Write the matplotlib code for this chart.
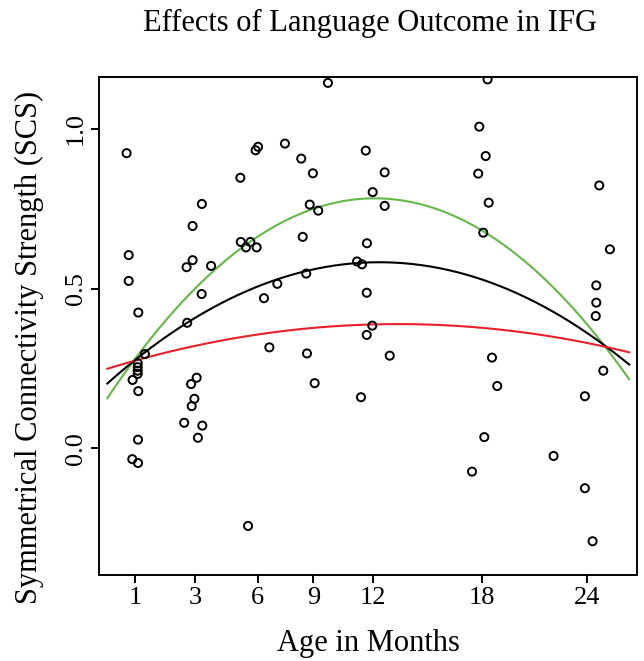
import numpy as np
import matplotlib
matplotlib.use("Agg")
import matplotlib.pyplot as plt

# ---- axis tick labels (months) and their relative spacing on the axis ----
tick_months = [1, 3, 6, 9, 12, 18, 24]
tick_pos = [135.0, 195.0, 257.7, 313.3, 372.7, 481.7, 586.7]

# ---- scatter data (age in months, SCS) ----
age = [0.72, 9.74, 5.90, 6.02, 7.47, 8.35, 8.98, 5.17, 11.65, 3.33,
       2.92, 8.81, 9.25, 0.79, 5.19, 5.65, 5.44, 5.95, 8.43, 11.71,
       2.72, 2.92, 3.77, 0.79, 11.21, 11.46, 7.06, 8.62, 11.70, 3.32,
       6.34, 1.11, 2.74, 18.34, 17.87, 18.23, 12.66, 17.81, 12.00, 24.72,
       12.66, 18.40, 18.09, 25.33, 24.55, 24.55, 24.52, 6.63, 8.66, 9.07,
       11.41, 11.70, 11.98, 12.94, 1.33, 1.09, 1.09, 1.09, 1.09, 0.92,
       1.11, 3.08, 2.87, 2.98, 2.89, 2.64, 3.35, 3.14, 1.10, 0.91,
       1.10, 5.54, 18.59, 18.89, 18.15, 17.47, 22.11, 23.90, 23.90, 24.34,
       24.95]
scs = [0.924, 1.144, 0.933, 0.944, 0.954, 0.907, 0.861, 0.847, 0.932, 0.765,
       0.696, 0.763, 0.744, 0.605, 0.646, 0.646, 0.629, 0.629, 0.662, 0.642,
       0.567, 0.589, 0.571, 0.524, 0.585, 0.576, 0.515, 0.547, 0.487, 0.483,
       0.470, 0.425, 0.393, 1.155, 1.007, 0.915, 0.864, 0.860, 0.802, 0.823,
       0.759, 0.769, 0.675, 0.623, 0.510, 0.456, 0.414, 0.316, 0.297, 0.204,
       0.160, 0.355, 0.384, 0.290, 0.295, 0.266, 0.254, 0.243, 0.233, 0.214,
       0.179, 0.221, 0.201, 0.155, 0.132, 0.080, 0.071, 0.033, 0.027, -0.034,
       -0.046, -0.243, 0.284, 0.195, 0.035, -0.073, -0.024, 0.163, -0.125, -0.291,
       0.243]

# ---- fitted curves, values read at several ages ----
green_age = [0.077, 1.0, 2.06, 5.63, 8.82, 12.03, 18.09, 23.71, 25.14, 26.43]
green_val = [0.158, 0.276, 0.402, 0.652, 0.756, 0.773, 0.675, 0.408, 0.318, 0.214]
black_age = [0.077, 1.0, 2.74, 7.03, 11.19, 13.67, 18.07, 22.86, 25.14, 26.43]
black_val = [0.204, 0.276, 0.393, 0.527, 0.579, 0.580, 0.527, 0.408, 0.318, 0.258]
red_age = [0.077, 1.0, 6.30, 11.86, 14.05, 19.62, 25.14, 26.43]
red_val = [0.247, 0.276, 0.360, 0.388, 0.389, 0.365, 0.318, 0.301]

# piecewise-linear axis scale built from the tick spacing
km = np.array([-10.0] + tick_months + [40.0])
kp = np.array([tick_pos[0] - 11 * 30.0] + tick_pos + [tick_pos[-1] + 16 * 17.5])


def fwd(x):
    return np.interp(x, km, kp)


def inv(p):
    return np.interp(p, kp, km)


plt.rcParams['font.family'] = ['Liberation Serif', 'DejaVu Serif']

fig = plt.figure(figsize=(6.44, 6.61), dpi=100)
ax = fig.add_axes([99.3 / 644, 1 - 575 / 661, (636.7 - 99.3) / 644, (575 - 77) / 661])
ax.set_xscale('function', functions=(fwd, inv))

ax.scatter(age, scs, s=34, facecolors='none', edgecolors='black', linewidths=1.4, zorder=3)

for xa, ya, col in [(green_age, green_val, '#63b946'),
                    (black_age, black_val, 'black'),
                    (red_age, red_val, '#e8202a')]:
    p = fwd(np.array(xa))
    c = np.polyfit(p, np.array(ya), 2)
    pg = np.linspace(p.min(), p.max(), 300)
    ax.plot(inv(pg), np.polyval(c, pg), color=col, lw=1.5, zorder=2)

ax.set_xlim(-0.19, 26.86)
ax.set_ylim(-0.3967, 1.1625)
ax.set_xticks(tick_months)
ax.set_xticklabels([str(t) for t in tick_months])
ax.set_xticks([], minor=True)
ax.set_yticks([0.0, 0.5, 1.0])
ax.set_yticklabels(['0.0', '0.5', '1.0'], rotation=90, va='center')

for s in ax.spines.values():
    s.set_linewidth(1.4)
ax.tick_params(direction='out', length=6, width=1.4, labelsize=19, pad=3)

ax.set_xlabel('Age in Months', fontsize=22, labelpad=14)
ax.set_ylabel('Symmetrical Connectivity Strength (SCS)', fontsize=22, va='center')
ax.yaxis.set_label_coords((29 - 99.3) / 537.4, (575 - 347) / 498)
fig.text(370 / 644, 1 - 23 / 661, 'Effects of Language Outcome in IFG',
         ha='center', va='center', fontsize=22)

fig.savefig('out.png', dpi=100)
